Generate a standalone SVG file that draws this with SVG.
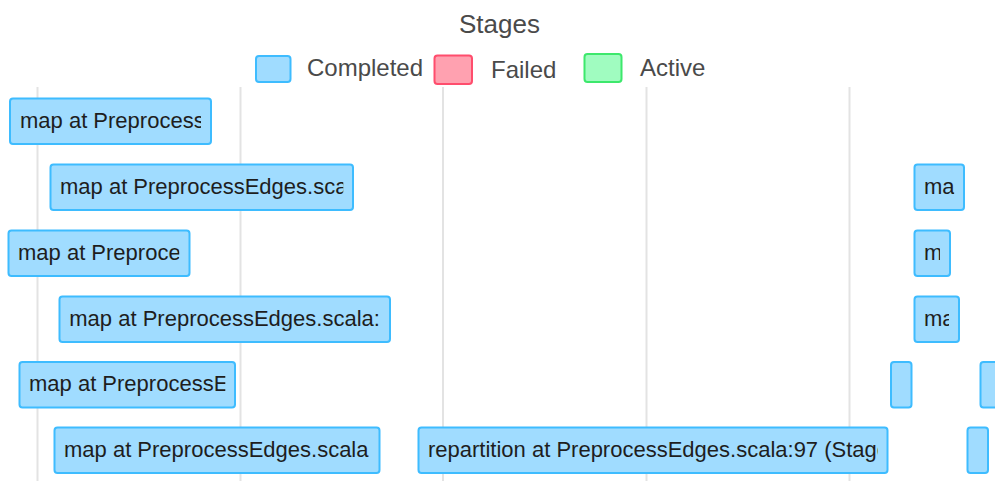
<svg xmlns="http://www.w3.org/2000/svg" width="995" height="481" viewBox="0 0 995 481">
  <style>
    .title { font-family: "Liberation Sans", Arial, sans-serif; font-size: 26px; fill: #4a4a4a; text-anchor: middle; }
    .legend-text { font-family: "Liberation Sans", Arial, sans-serif; font-size: 24px; fill: #4a4a4a; }
    .grid line { stroke: #e3e3e3; stroke-width: 2; }
    .stage rect { fill: #a0dcff; stroke: #3ebcff; stroke-width: 2; }
    .stage text { font-family: "Liberation Sans", Arial, sans-serif; font-size: 22px; fill: #1e1e1e; }
    .lg-completed { fill: #a0dcff; stroke: #3ebcff; stroke-width: 2; }
    .lg-failed { fill: #ffa1b0; stroke: #ff4d6d; stroke-width: 2; }
    .lg-active { fill: #a0fcc0; stroke: #3de86c; stroke-width: 2; }
  </style>
  <defs>
    <clipPath id="c1"><rect x="20" y="98" width="181" height="46"/></clipPath>
    <clipPath id="c2"><rect x="60" y="164" width="283.3" height="46"/></clipPath>
    <clipPath id="c3"><rect x="18" y="230" width="161.3" height="46"/></clipPath>
    <clipPath id="c4"><rect x="69.3" y="296" width="310.7" height="46"/></clipPath>
    <clipPath id="c5"><rect x="29" y="362" width="196.3" height="46"/></clipPath>
    <clipPath id="c6"><rect x="64" y="428" width="305.3" height="46"/></clipPath>
    <clipPath id="c7"><rect x="428" y="428" width="450" height="46"/></clipPath>
    <clipPath id="c8"><rect x="924" y="164" width="30.3" height="46"/></clipPath>
    <clipPath id="c9"><rect x="924" y="230" width="16" height="46"/></clipPath>
    <clipPath id="c10"><rect x="924" y="296" width="25" height="46"/></clipPath>
  </defs>

  <!-- title and legend -->
  <text class="title" x="499.5" y="33">Stages</text>
  <g id="legend">
    <rect class="lg-completed" x="256" y="56" width="34.5" height="26" rx="3"/>
    <text class="legend-text" x="307" y="76">Completed</text>
    <rect class="lg-failed" x="434.5" y="55.5" width="37.5" height="28.5" rx="3"/>
    <text class="legend-text" x="491" y="77.5">Failed</text>
    <rect class="lg-active" x="584.5" y="54" width="37" height="28" rx="3"/>
    <text class="legend-text" x="640" y="76">Active</text>
  </g>

  <!-- time axis grid -->
  <g class="grid">
    <line x1="37.5" y1="87" x2="37.5" y2="481"/>
    <line x1="240.5" y1="87" x2="240.5" y2="481"/>
    <line x1="443" y1="87" x2="443" y2="481"/>
    <line x1="646.5" y1="87" x2="646.5" y2="481"/>
    <line x1="849.5" y1="87" x2="849.5" y2="481"/>
  </g>

  <!-- stage bars -->
  <g id="stage-1" class="stage">
    <rect x="10" y="98.5" width="201" height="45.5" rx="3"/>
    <text x="20" y="127.5" clip-path="url(#c1)">map at Preprocess</text>
  </g>
  <g id="stage-2" class="stage">
    <rect x="50.5" y="164.5" width="302.5" height="45.5" rx="3"/>
    <text x="60" y="193.5" clip-path="url(#c2)">map at PreprocessEdges.sca</text>
  </g>
  <g id="stage-3" class="stage">
    <rect x="8.5" y="230.5" width="181" height="45.5" rx="3"/>
    <text x="18" y="259.5" clip-path="url(#c3)">map at Preproce</text>
  </g>
  <g id="stage-4" class="stage">
    <rect x="59.5" y="296.5" width="330.5" height="45.5" rx="3"/>
    <text x="69.3" y="325.5" clip-path="url(#c4)">map at PreprocessEdges.scala:</text>
  </g>
  <g id="stage-5" class="stage">
    <rect x="19.5" y="362" width="215.5" height="45.5" rx="3"/>
    <text x="29" y="391" clip-path="url(#c5)">map at PreprocessE</text>
  </g>
  <g id="stage-6" class="stage">
    <rect x="54.5" y="427.5" width="325" height="45.5" rx="3"/>
    <text x="64" y="456.5" clip-path="url(#c6)">map at PreprocessEdges.scala</text>
  </g>
  <g id="stage-7" class="stage">
    <rect x="418.5" y="427.5" width="469" height="45.5" rx="3"/>
    <text x="428" y="456.5" clip-path="url(#c7)">repartition at PreprocessEdges.scala:97 (Stage</text>
  </g>
  <g id="stage-8" class="stage">
    <rect x="914.5" y="164.5" width="49.5" height="45.5" rx="3"/>
    <text x="924" y="193.5" clip-path="url(#c8)">ma</text>
  </g>
  <g id="stage-9" class="stage">
    <rect x="914.5" y="230.5" width="35.5" height="45.5" rx="3"/>
    <text x="924" y="259.5" clip-path="url(#c9)">m</text>
  </g>
  <g id="stage-10" class="stage">
    <rect x="914.5" y="296.5" width="44.5" height="45.5" rx="3"/>
    <text x="924" y="325.5" clip-path="url(#c10)">ma</text>
  </g>
  <g id="stage-11" class="stage">
    <rect x="891" y="362" width="20.5" height="45.5" rx="3"/>
  </g>
  <g id="stage-12" class="stage">
    <rect x="980.5" y="362" width="20" height="45.5" rx="3"/>
  </g>
  <g id="stage-13" class="stage">
    <rect x="967.5" y="427.5" width="20.5" height="45.5" rx="3"/>
  </g>
  <!-- no dependency connectors in this view -->
  <g id="connectors"/>
</svg>
